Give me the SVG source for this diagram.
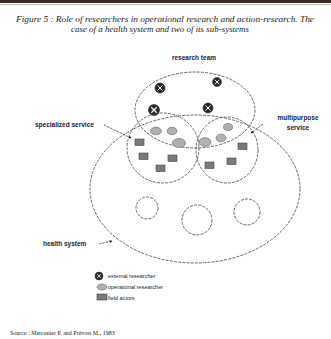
<svg xmlns="http://www.w3.org/2000/svg" xmlns:xlink="http://www.w3.org/1999/xlink" width="331" height="339" viewBox="0 0 331 339">
<style>
.title{font-family:"Liberation Serif",serif;font-style:italic;font-size:8px;fill:#222}
.lbl{font-family:"Liberation Sans",Arial,sans-serif;font-weight:bold;font-size:6.5px;fill:#1a1a3a}
.leg{font-family:"Liberation Sans",Arial,sans-serif;font-size:5.5px;fill:#1a1a3a}
.src{font-family:"Liberation Serif",serif;font-size:6px;fill:#222}
.dash{fill:none;stroke:#444;stroke-width:0.8;stroke-dasharray:3 1.2}
.op{fill:#b0b0b0;stroke:#666;stroke-width:0.6}
.fa{fill:#7a7a7a;stroke:#444;stroke-width:0.6}
.lead{fill:none;stroke:#333;stroke-width:0.7;stroke-dasharray:2.5 1}
</style>
<defs>
<marker id="arr" viewBox="0 0 6 6" refX="5" refY="3" markerWidth="4" markerHeight="4" orient="auto">
<path d="M0,0 L6,3 L0,6 z" fill="#111"/>
</marker>
<g id="ext">
<circle r="5" fill="#2a2a2a" stroke="#111" stroke-width="0.5"/>
<path d="M-2.5,-2.5 L2.5,2.5 M2.5,-2.5 L-2.5,2.5" stroke="#fff" stroke-width="1"/>
</g>
</defs>
<rect width="331" height="339" fill="#fff"/>
<rect x="0" y="0" width="331" height="3" fill="#3b2b26"/>
<rect x="0" y="4" width="331" height="1" fill="#b8b8b8"/>
<text class="title" x="165" y="22" text-anchor="middle" textLength="298" lengthAdjust="spacingAndGlyphs">Figure 5 : Role of researchers in operational research and action-research. The</text>
<text class="title" x="160" y="32" text-anchor="middle" textLength="178" lengthAdjust="spacingAndGlyphs">case of a health system and two of its sub-systems</text>

<g id="health-system">
<ellipse class="dash" cx="195" cy="189" rx="105" ry="74"/>
<text class="lbl" x="43" y="246">health system</text>
</g>
<g id="sub-systems">
<circle class="dash" cx="147" cy="208" r="11"/>
<circle class="dash" cx="197" cy="220" r="15"/>
<circle class="dash" cx="247" cy="212" r="13"/>
</g>
<g id="research-team">
<ellipse class="dash" cx="195" cy="110" rx="60" ry="38"/>
<text class="lbl" x="194" y="60" text-anchor="middle" font-weight="normal">research team</text>
<use xlink:href="#ext" x="160" y="88"/>
<use xlink:href="#ext" x="217" y="82" transform="translate(217 82) scale(0.9) translate(-217 -82)"/>
<use xlink:href="#ext" x="154" y="110" transform="translate(154 110) scale(1.1) translate(-154 -110)"/>
<use xlink:href="#ext" x="208" y="108"/>
</g>
<g id="specialized-service">
<ellipse class="dash" cx="163" cy="148" rx="36" ry="35"/>
<text class="lbl" x="35" y="127">specialized service</text>
</g>
<g id="multipurpose-service">
<ellipse class="dash" cx="227" cy="150" rx="31" ry="33"/>
<text class="lbl" x="298" y="120" text-anchor="middle">multipurpose</text>
<text class="lbl" x="298" y="130" text-anchor="middle">service</text>
</g>
<g id="operational-researchers">
<ellipse class="op" cx="156" cy="131" rx="5.5" ry="3.8"/>
<ellipse class="op" cx="172" cy="131" rx="5" ry="3.8"/>
<ellipse class="op" cx="179" cy="143" rx="6.5" ry="4.5"/>
<ellipse class="op" cx="205" cy="142" rx="6" ry="4.3"/>
<ellipse class="op" cx="221" cy="138" rx="5" ry="3.8"/>
<ellipse class="op" cx="228" cy="127" rx="4.5" ry="3.5"/>
</g>
<g id="field-actors">
<rect class="fa" x="135" y="139" width="9" height="6.5"/>
<rect class="fa" x="139" y="153" width="9" height="6.5"/>
<rect class="fa" x="168" y="155" width="9" height="6.5"/>
<rect class="fa" x="156" y="165" width="9" height="6.5"/>
<rect class="fa" x="205" y="162" width="9" height="6.5"/>
<rect class="fa" x="227" y="158" width="9" height="6.5"/>
<rect class="fa" x="238" y="143" width="9" height="6.5"/>
</g>
<g id="connectors">
<path class="lead" d="M104,125 L131,138" marker-end="url(#arr)"/>
<path class="lead" d="M263,124 L251,133" marker-end="url(#arr)"/>
<path class="lead" d="M99,244 L112,241" marker-end="url(#arr)"/>
</g>
<g id="legend">
<use xlink:href="#ext" transform="translate(99 276) scale(0.8)"/>
<text class="leg" x="108" y="278">external researcher</text>
<ellipse class="op" cx="102" cy="287" rx="5" ry="3"/>
<text class="leg" x="108" y="289">operational researcher</text>
<rect class="fa" x="97" y="294" width="10" height="6"/>
<text class="leg" x="108" y="299.5">field actors</text>
</g>
<text class="src" x="10" y="335">Source : Mercenier P. and Prévost M., 1983</text>
</svg>
